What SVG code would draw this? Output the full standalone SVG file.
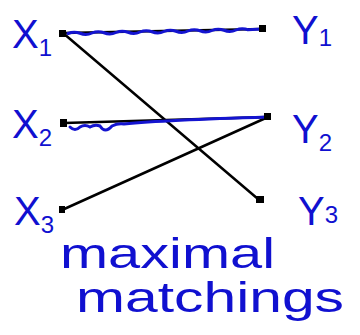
<svg xmlns="http://www.w3.org/2000/svg" width="360" height="335" viewBox="0 0 360 335">
<style>
.lbl{font-family:"Liberation Sans",Arial,sans-serif;fill:#1010d0;}
.big{font-size:40px;}
.sub{font-size:24px;}
.hw{font-family:"Liberation Sans",Arial,sans-serif;fill:#1010d0;font-size:42px;}
.edge{stroke:#000;stroke-width:2.5;fill:none;stroke-linecap:round;}
.match{stroke:#1414d0;stroke-width:3;fill:none;stroke-linecap:round;}
.node{fill:#000;}
</style>
<g id="connectors">
<path class="edge" d="M63,33 L262,29"/>
<path class="edge" d="M63,33 L258,199"/>
<path class="edge" d="M64,123 L268,117"/>
<path class="edge" d="M62,210 L268,117"/>
<path class="match" d="M68,33.5 q6,-2.6 12,-0.25 q6,2.4 12,-0.25 q6,-2.6 12,-0.25 q6,2.4 12,-0.25 q6,-2.6 12,-0.25 q6,2.4 12,-0.25 q6,-2.6 12,-0.25 q6,2.4 12,-0.25 q6,-2.6 12,-0.25 q6,2.4 12,-0.25 q6,-2.6 12,-0.25 q6,2.4 12,-0.25 q6,-2.6 12,-0.25 q6,2.4 12,-0.25 q6,-2.6 12,-0.25 L262,29"/>
<path class="match" d="M70,127 q5,5 10,0 q5,-3 10,0 q5,-3 10,-1 q5,8 12,0 q6,-3 12,-2 q40,-4 144,-7"/>
</g>
<g id="X1"><rect class="node" x="59" y="30" width="7" height="7"/><text class="lbl big" x="12" y="48">X<tspan class="sub" dy="8">1</tspan></text></g>
<g id="X2"><rect class="node" x="60" y="119" width="7" height="8"/><text class="lbl big" x="12" y="138">X<tspan class="sub" dy="8">2</tspan></text></g>
<g id="X3"><rect class="node" x="59" y="206" width="6" height="7"/><text class="lbl big" x="14" y="225">X<tspan class="sub" dy="8">3</tspan></text></g>
<g id="Y1"><rect class="node" x="259" y="25" width="7" height="7"/><text class="lbl big" x="292" y="44">Y<tspan class="sub" dy="2">1</tspan></text></g>
<g id="Y2"><rect class="node" x="264" y="113" width="7" height="7"/><text class="lbl big" x="292" y="143">Y<tspan class="sub" dy="8">2</tspan></text></g>
<g id="Y3"><rect class="node" x="256" y="196" width="8" height="7"/><text class="lbl big" x="298" y="225">Y<tspan class="sub" dy="-2">3</tspan></text></g>
<g id="caption">
<text class="hw" x="60" y="268" textLength="215" lengthAdjust="spacingAndGlyphs">maximal</text>
<text class="hw" x="76" y="312" textLength="268" lengthAdjust="spacingAndGlyphs">matchings</text>
</g>
</svg>
